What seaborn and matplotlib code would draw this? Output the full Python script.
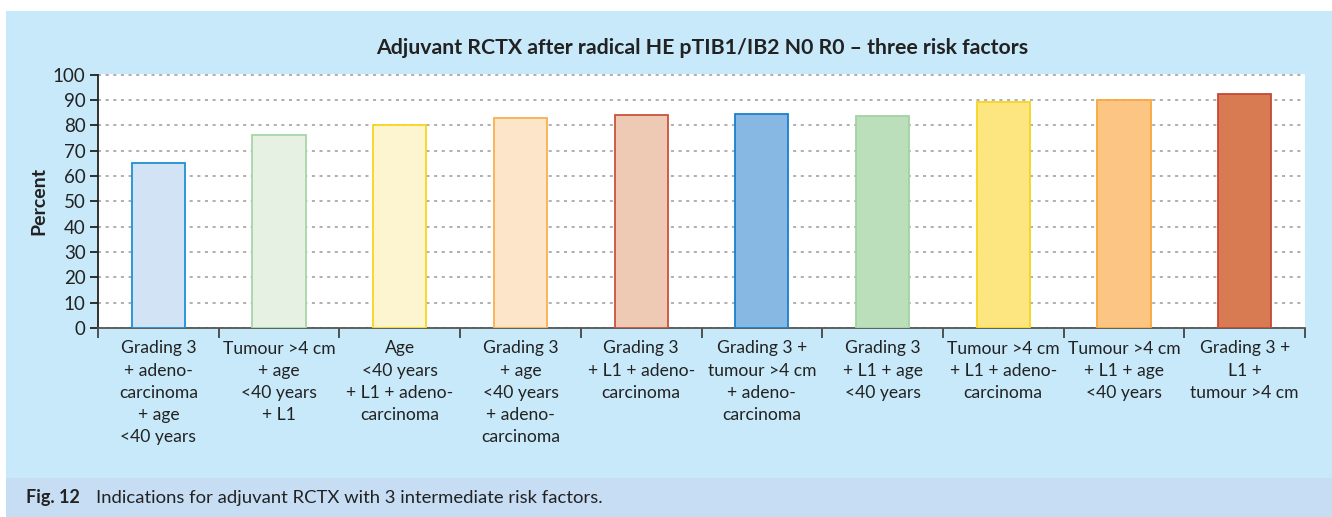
import matplotlib
matplotlib.use("Agg")
import matplotlib.pyplot as plt
from matplotlib.patches import Rectangle
from matplotlib.ticker import FixedLocator
import seaborn as sns
import pandas as pd

categories = [
    "Grading 3\n+ adeno-\ncarcinoma\n+ age\n<40 years",
    "Tumour >4 cm\n+ age\n<40 years\n+ L1",
    "Age\n<40 years\n+ L1 + adeno-\ncarcinoma",
    "Grading 3\n+ age\n<40 years\n+ adeno-\ncarcinoma",
    "Grading 3\n+ L1 + adeno-\ncarcinoma",
    "Grading 3 +\ntumour >4 cm\n+ adeno-\ncarcinoma",
    "Grading 3\n+ L1 + age\n<40 years",
    "Tumour >4 cm\n+ L1 + adeno-\ncarcinoma",
    "Tumour >4 cm\n+ L1 + age\n<40 years",
    "Grading 3 +\nL1 +\ntumour >4 cm",
]
percent = [65, 76, 80, 83, 84, 84.5, 83.5, 89, 90, 92.5]
fill_colors = ["#d2e3f5", "#e6f1e4", "#fdf5d0", "#fde5c9", "#eecab5",
               "#86b8e3", "#bbdfbb", "#fde67f", "#fcc584", "#d87a52"]
edge_colors = ["#1f8fd6", "#a6d6a6", "#f7d51e", "#f8b04e", "#c9533d",
               "#1a80cc", "#a2d2a2", "#f7d51e", "#f8a83c", "#c44a38"]
yticks = list(range(0, 101, 10))
title = "Adjuvant RCTX after radical HE pTIB1/IB2 N0 R0 \u2013 three risk factors"
ylabel = "Percent"
caption_bold = "Fig. 12"
caption_text = "Indications for adjuvant RCTX with 3 intermediate risk factors."

sns.set_style("white")
FONT = ["Lato", "DejaVu Sans"]
plt.rcParams["font.family"] = FONT

W, H = 1332, 517
fig = plt.figure(figsize=(W / 100, H / 100), dpi=100)
fig.patch.set_facecolor("white")

# panel backgrounds
fig.patches.append(Rectangle((6 / W, (517 - 478) / H), 1 - 6 / W, (478 - 11) / H,
                             transform=fig.transFigure, facecolor="#c8e9f9",
                             edgecolor="none", zorder=-5))
fig.patches.append(Rectangle((6 / W, 0), 1 - 6 / W, (517 - 478) / H,
                             transform=fig.transFigure, facecolor="#c6ddf3",
                             edgecolor="none", zorder=-5))

ax = fig.add_axes([98 / W, 1 - 328 / H, (1305 - 98) / W, (328 - 74.5) / H])
ax.set_zorder(5)
ax.set_facecolor("white")

df = pd.DataFrame({"cat": categories, "val": percent})
sns.barplot(data=df, x="cat", y="val", hue="cat", palette=fill_colors,
            legend=False, width=0.44, ax=ax, zorder=3, saturation=1)
for p, ec in zip(ax.patches, edge_colors):
    p.set_edgecolor(ec)
    p.set_linewidth(1.3)

ax.set_ylim(0, 100)
ax.set_xlim(-0.5, len(categories) - 0.5)
ax.set_yticks(yticks)
ax.set_yticklabels([str(t) for t in yticks], fontsize=13.5, color="#222222")
ax.yaxis.grid(True, linestyle=(0, (2, 3)), color="#9a9a9a", linewidth=1.1, zorder=1)
ax.xaxis.grid(False)
ax.set_axisbelow(True)

ax.set_xticks(range(len(categories)))
ax.set_xticklabels(categories, fontsize=12.6, color="#222222", linespacing=1.48)
ax.tick_params(axis="x", which="major", length=0, pad=9)
ax.xaxis.set_minor_locator(FixedLocator([i - 0.5 for i in range(len(categories) + 1)]))
ax.tick_params(axis="x", which="minor", length=7, width=1.3, color="#444444",
               direction="out", bottom=True)
ax.tick_params(axis="y", which="major", length=6, width=1.3, color="#222222",
               direction="out", left=True, pad=3)

for s in ["top", "right"]:
    ax.spines[s].set_visible(False)
ax.spines["left"].set_color("#222222")
ax.spines["left"].set_linewidth(1.3)
ax.spines["bottom"].set_color("#555555")
ax.spines["bottom"].set_linewidth(1.3)

ax.set_xlabel("")
ax.set_ylabel(ylabel, fontsize=14, fontweight="bold", color="#222222")
ax.yaxis.set_label_coords(-0.042, 0.5)

fig.text(702 / W, 1 - 48 / H, title, ha="center", va="center",
         fontsize=15.3, fontweight="bold", color="#222222")

t1 = fig.text(26 / W, 1 - 498 / H, caption_bold, ha="left", va="center",
              fontsize=13, fontweight="bold", color="#222222")
fig.canvas.draw()
bb = t1.get_window_extent()
fig.text((bb.x1 + 16) / W, 1 - 498 / H, caption_text, ha="left", va="center",
         fontsize=13.3, color="#222222")

fig.savefig("out.png", dpi=100, facecolor="white")
